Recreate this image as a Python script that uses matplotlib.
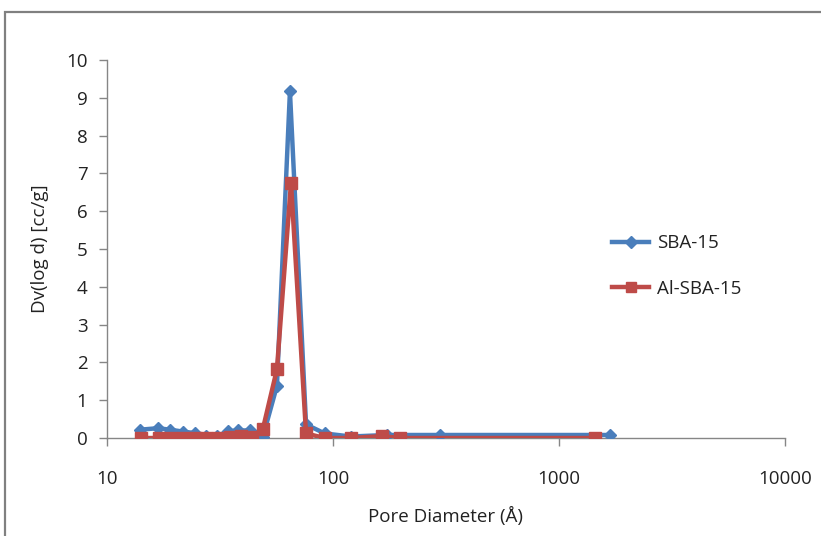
import numpy as np
import matplotlib as mpl
mpl.use('Agg')
import matplotlib.pyplot as plt
from matplotlib.patches import Rectangle

# pore size distribution (BJH), diameter in angstrom
sba_d = [14.0, 16.8, 19.0, 21.7, 24.5, 27.4, 30.7, 34.3, 38.0, 43.0, 49.0,
         56.5, 64.5, 76.0, 92.0, 120.0, 174.0, 297.0, 1680.0]
sba_dv = [0.22, 0.26, 0.22, 0.17, 0.13, 0.06, 0.05, 0.18, 0.20, 0.20, 0.04,
          1.38, 9.17, 0.36, 0.12, 0.04, 0.08, 0.08, 0.08]

al_d = [14.1, 17.0, 19.2, 21.7, 24.5, 27.4, 31.0, 35.0, 39.2, 43.8, 49.0,
        56.5, 65.2, 76.0, 92.0, 120.0, 165.0, 198.0, 1442.0]
al_dv = [0.0, 0.0, 0.0, 0.0, 0.0, 0.0, 0.0, 0.02, 0.05, 0.02, 0.25,
         1.82, 6.75, 0.12, 0.0, 0.0, 0.05, 0.0, 0.0]

blue = '#4A7EBB'
red = '#BE4B48'
grey = '#868686'
txt = '#222222'

plt.rcParams['font.family'] = ['Open Sans', 'DejaVu Sans']

fig = plt.figure(figsize=(8.21, 5.36), dpi=100)
ax = fig.add_axes([0.1303, 0.1828, 0.8258, 0.7052])

# chart border
fig.patches.append(Rectangle((5/821, -0.2), 1.2, 1.2 - 12/536,
                             transform=fig.transFigure, fill=False,
                             edgecolor='#808080', linewidth=1.6))

ax.plot(sba_d, sba_dv, color=blue, lw=3.2, marker='D', ms=6.5,
        mfc=blue, mec=blue, label='SBA-15', zorder=3)
ax.plot(al_d, al_dv, color=red, lw=3.2, marker='s', ms=8.5,
        mfc=red, mec=red, label='Al-SBA-15', zorder=4)

ax.set_xscale('log')
ax.set_xlim(10, 10000)
ax.set_ylim(0, 10)
ax.set_yticks(range(0, 11))
ax.set_xticks([10, 100, 1000, 10000])
ax.set_xticklabels(['10', '100', '1000', '10000'])
ax.xaxis.set_minor_locator(mpl.ticker.NullLocator())

for s in ['top', 'right']:
    ax.spines[s].set_visible(False)
for s in ['left', 'bottom']:
    ax.spines[s].set_color(grey)
    ax.spines[s].set_linewidth(1)
ax.tick_params(axis='both', colors=grey, labelcolor=txt,
               labelsize=13.5, length=6, width=1, direction='out')
ax.tick_params(axis='x', pad=17)
ax.tick_params(axis='y', pad=8)

ax.set_xlabel('Pore Diameter (Å)', fontsize=13.5, color=txt, labelpad=14)
ax.set_ylabel('Dv(log d) [cc/g]', fontsize=13.5, color=txt, labelpad=12)

leg = ax.legend(loc='center left', bbox_to_anchor=(0.72, 0.455), frameon=False,
                fontsize=13.5, labelspacing=1.45, handlelength=2.0,
                handletextpad=0.4, markerscale=0.9)
for t in leg.get_texts():
    t.set_color(txt)

plt.savefig('out.png', dpi=100)
